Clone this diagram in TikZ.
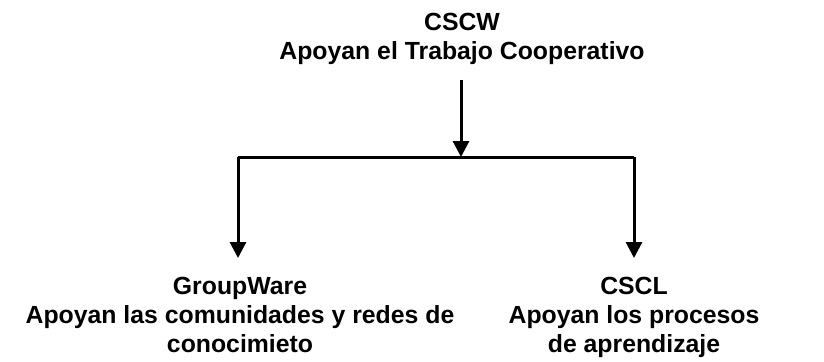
\documentclass[tikz,border=0pt]{standalone}
\usepackage{fontspec}
\setmainfont{Liberation Sans}
\usetikzlibrary{arrows.meta}
\begin{document}
\begin{tikzpicture}[x=.5pt, y=-.5pt, line width=1.5pt, line join=miter,
		>={Triangle[width=8pt,length=8pt]},
		txt/.style={align=center, inner sep=0pt, anchor=base, font=\fontsize{12.4}{14.5}\selectfont\bfseries}]
				\def\ysplit{157} \def\ytip{258}
				\useasboundingbox (0,0) rectangle (824,361);
				% texts (anchored at baseline of last line)
				\node[txt] (cscw) at (462,59) {CSCW\\Apoyan el Trabajo Cooperativo};
				\node[txt] (gw) at (240,352) {GroupWare\\Apoyan las comunidades y redes de\\conocimieto};
				\node[txt] (cscl) at (634,352) {CSCL\\Apoyan los procesos\\de aprendizaje};
				% branch points
				\coordinate (top) at (461,80);
				\coordinate (split) at (461,\ysplit);
				\coordinate (left) at (238,\ysplit);
				\coordinate (right) at (634,\ysplit);
				\coordinate (tipL) at (238,\ytip);
				\coordinate (tipR) at (634,\ytip);
				\draw[->] (top)--(split);
				\draw[->] (left)--(tipL);
				\draw (left)--(right);
				\draw[->] (right)--(tipR);
			\end{tikzpicture}
\end{document}
